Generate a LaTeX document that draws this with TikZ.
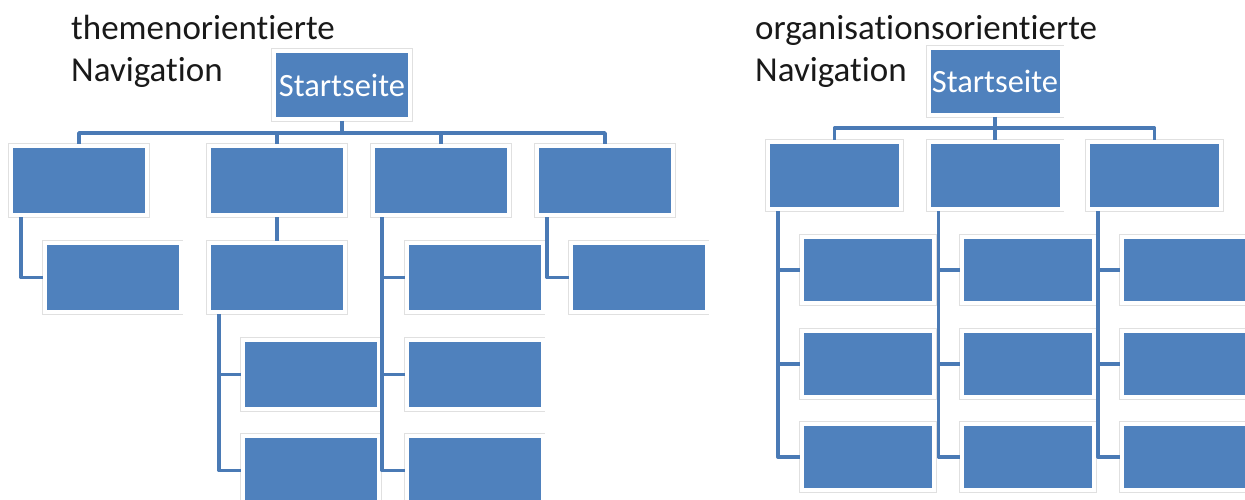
\documentclass[tikz,border=0pt]{standalone}
\usepackage{fontspec}
\setmainfont{Carlito}[Ligatures=NoCommon]
\usetikzlibrary{calc}
\definecolor{boxblue}{HTML}{4F81BD}
\definecolor{lineblue}{HTML}{4A7AB5}
\tikzset{
  box/.style={rectangle, fill=boxblue, draw=white, line width=4pt,
    preaction={draw=black!12, line width=5.4pt}, inner sep=0pt},
  lbox/.style={box, minimum width=136pt, minimum height=69pt},
  rbox/.style={box, minimum width=133pt, minimum height=67pt},
  rsub/.style={box, minimum width=132pt, minimum height=66pt},
  conn/.style={draw=lineblue, line width=3.4pt, line join=round},
  title/.style={font=\fontsize{35}{42}\selectfont, text=black!90, align=left, anchor=base west, inner sep=0pt},
  start/.style={font=\fontsize{32.5}{36}\selectfont, text=white}
}
\begin{document}
\begin{tikzpicture}[x=1pt,y=-1pt]
\useasboundingbox (0,0) rectangle (1245,500);
% ---------- left diagram ----------
\node[title] (tl) at (71,82) {themenorientierte\\Navigation};
\node[lbox, minimum height=68pt, start] (ls) at (342,85) {Startseite};
\node[lbox] (l1) at (79,180.5) {};
\node[lbox] (l2) at (277,180.5) {};
\node[lbox] (l3) at (441,180.5) {};
\node[lbox] (l4) at (605,180.5) {};
\node[lbox] (l1a) at (112.5,277.5) {};
\node[lbox] (l2a) at (277,277.5) {};
\node[lbox] (l2b) at (311,374.5) {};
\node[lbox] (l2c) at (311,470.5) {};
\node[lbox] (l3a) at (474.5,277.5) {};
\node[lbox] (l3b) at (474.5,374.5) {};
\node[lbox] (l3c) at (474.5,470.5) {};
\node[lbox] (l4a) at (638.5,277.5) {};
\coordinate (lh) at (342,133);
\path[conn] (ls.south) -- (lh);
\path[conn] (l1.north) |- (lh) -| (l4.north);
\path[conn] (l2.north) -- (l2.north |- lh);
\path[conn] (l3.north) -- (l3.north |- lh);
\path[conn] ($(l1.south west)+(12,0)$) |- (l1a.west);
\path[conn] (l2.south) -- (l2a.north);
\path[conn] ($(l2a.south west)+(12,0)$) |- (l2c.west);
\path[conn] ($(l2a.south west)+(12,0)$) |- (l2b.west);
\path[conn] ($(l3.south west)+(11,0)$) |- (l3c.west);
\path[conn] ($(l3.south west)+(11,0)$) |- (l3b.west);
\path[conn] ($(l3.south west)+(11,0)$) |- (l3a.west);
\path[conn] ($(l4.south west)+(12,0)$) |- (l4a.west);
% ---------- right diagram ----------
\node[title] (tr) at (755,82) {organisationsorientierte\\Navigation};
\node[rbox, start] (rs) at (995,81.5) {Startseite};
\node[rbox] (r1) at (834.5,175.5) {};
\node[rbox] (r2) at (995,175.5) {};
\node[rbox] (r3) at (1154.5,175.5) {};
\node[rsub] (r1a) at (868,270) {};
\node[rsub] (r1b) at (868,364) {};
\node[rsub] (r1c) at (868,457) {};
\node[rsub] (r2a) at (1028,270) {};
\node[rsub] (r2b) at (1028,364) {};
\node[rsub] (r2c) at (1028,457) {};
\node[rsub] (r3a) at (1188,270) {};
\node[rsub] (r3b) at (1188,364) {};
\node[rsub] (r3c) at (1188,457) {};
\coordinate (rh) at (995,128);
\path[conn] (rs.south) -- (rh);
\path[conn] (r1.north) |- (rh) -| (r3.north);
\path[conn] (r2.north) -- (r2.north |- rh);
\foreach \c in {1,2,3}{
  \path[conn] ($(r\c.south west)+(12,0)$) |- (r\c c.west);
  \path[conn] ($(r\c.south west)+(12,0)$) |- (r\c b.west);
  \path[conn] ($(r\c.south west)+(12,0)$) |- (r\c a.west);
}
\end{tikzpicture}
\end{document}
